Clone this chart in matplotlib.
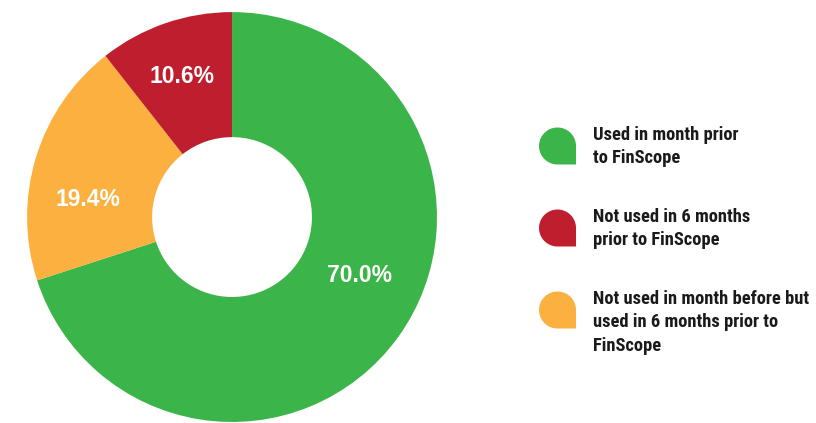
import numpy as np
import matplotlib
matplotlib.use("Agg")
import matplotlib.pyplot as plt
from matplotlib.path import Path
from matplotlib.patches import PathPatch
from matplotlib import font_manager

# chart data
labels = ['Used in month prior\nto FinScope',
          'Not used in month before but\nused in 6 months prior to\nFinScope',
          'Not used in 6 months\nprior to FinScope']
values = [70.0, 19.4, 10.6]
colors = ['#3bb54a', '#fbb040', '#be1e2d']
# legend order as drawn
legend_order = [0, 2, 1]

names = {f.name for f in font_manager.fontManager.ttflist}
family = 'Liberation Sans'
for cand in ['Roboto Condensed', 'Liberation Sans Narrow', 'Open Sans Condensed']:
    if cand in names:
        family = cand
        break
condensed = family != 'Liberation Sans'
plt.rcParams['font.family'] = [family, 'DejaVu Sans']

fig = plt.figure(figsize=(8.16, 4.23), dpi=100)
ax = fig.add_axes([0.0331, 0.0024, 0.5025, 0.969])
wedges, _ = ax.pie(values, colors=colors, startangle=90, counterclock=False,
                   radius=1.0, wedgeprops=dict(width=0.61, linewidth=0))
ax.set_xlim(-1, 1)
ax.set_ylim(-1, 1)
ax.set_aspect('equal')
ax.axis('off')

# label placement: (radius, angle offset in degrees from wedge middle)
label_pos = [(0.685, 11.5), (0.71, 9.8), (0.73, 0.6)]
start = 90.0
for v, (r, off) in zip(values, label_pos):
    mid = start - v * 3.6 / 2
    a = np.deg2rad(mid + off)
    ax.text(r * np.cos(a), r * np.sin(a), f'{v:.1f}%',
            ha='center', va='center', color='white', fontsize=16.5,
            fontweight='bold', family=['Liberation Sans', 'DejaVu Sans'])
    start -= v * 3.6

# legend with teardrop markers
lax = fig.add_axes([0, 0, 1, 1])
lax.set_xlim(0, 816)
lax.set_ylim(423, 0)
lax.axis('off')


def drop(cx, cy, r):
    t = np.linspace(0, 1.5 * np.pi, 60)
    xs = cx + r * np.cos(t)
    ys = cy - r * np.sin(t)
    verts = list(zip(xs, ys)) + [(cx + r, cy + r), (cx + r, cy)]
    return Path(verts, closed=True)


ys = [146, 228, 310]
fs = 13.3 if condensed else 11.3
for y, i in zip(ys, legend_order):
    lax.add_patch(PathPatch(drop(557.5, y, 18.5), facecolor=colors[i], edgecolor='none'))
    lax.text(593, y - 20, labels[i], ha='left', va='top', fontsize=fs,
             fontweight='bold', color='#1a1a1a', linespacing=1.38)

fig.savefig('out.png', dpi=100)
